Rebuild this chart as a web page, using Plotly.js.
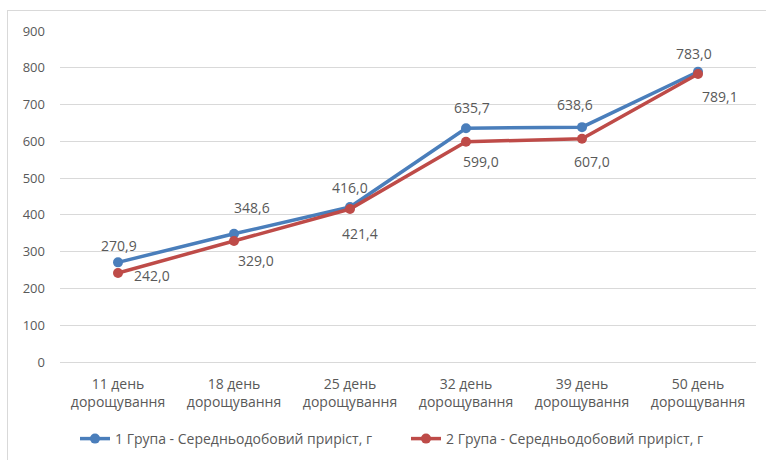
<!DOCTYPE html>
<html>
<head>
<meta charset="utf-8">
<script src="https://cdn.plot.ly/plotly-3.0.1.min.js"></script>
<style>
html,body{margin:0;padding:0;background:#fff;}
#frame{position:absolute;left:7px;top:10px;width:780px;height:470px;border:1px solid #d9d9d9;box-sizing:border-box;}
#chart{position:absolute;left:0;top:0;width:766px;height:460px;}
</style>
</head>
<body>
<div id="frame"></div>
<div id="chart"></div>
<script>
const categories = ['11 день<br>дорощування','18 день<br>дорощування','25 день<br>дорощування','32 день<br>дорощування','39 день<br>дорощування','50 день<br>дорощування'];
const group1Values = [270.9, 348.6, 421.4, 635.7, 638.6, 789.1];
const group2Values = [242.0, 329.0, 416.0, 599.0, 607.0, 783.0];
const upperLabels = ['270,9','348,6','416,0','635,7','638,6','783,0'];
const lowerLabels = ['242,0','329,0','421,4','599,0','607,0','789,1'];
const seriesNames = ['1 Група - Середньодобовий приріст, г','2 Група - Середньодобовий приріст, г'];
const yTicks = [0,100,200,300,400,500,600,700,800,900];

// label offsets (pixels) — styling only
const upperShiftX = [1, 18, 0, 6, -7, -4];
const upperShiftY = [17, 26, 20, 21, 23, 18];
const lowerShiftX = [34, 22, 10, 15, 10, 22];
const lowerShiftY = [-2, -19, -24, -20, -23, -22];

const FONT = 'Open Sans, Noto Sans, sans-serif';
const GREY = '#595959';
const BLUE = '#4A7EBB';
const RED = '#BE4B48';

const traces = [
  {x: categories, y: group1Values, name: seriesNames[0], type:'scatter', mode:'lines+markers',
   line:{color:BLUE, width:3.5}, marker:{color:BLUE, size:10}, cliponaxis:false},
  {x: categories, y: group2Values, name: seriesNames[1], type:'scatter', mode:'lines+markers',
   line:{color:RED, width:3.5}, marker:{color:RED, size:10}, cliponaxis:false}
];

const annotations = [];
categories.forEach((c, i) => {
  annotations.push({x: i, y: group1Values[i], xref:'x', yref:'y', text: upperLabels[i], showarrow:false,
    xshift: upperShiftX[i], yshift: upperShiftY[i], font:{family:FONT, size:14, color:GREY}});
  annotations.push({x: i, y: group2Values[i], xref:'x', yref:'y', text: lowerLabels[i], showarrow:false,
    xshift: lowerShiftX[i], yshift: lowerShiftY[i], font:{family:FONT, size:14, color:GREY}});
});

const layout = {
  width:766, height:460,
  margin:{l:60, r:10, t:31, b:98},
  paper_bgcolor:'rgba(0,0,0,0)', plot_bgcolor:'rgba(0,0,0,0)',
  font:{family:FONT, size:13, color:GREY},
  showlegend:true,
  legend:{orientation:'h', xref:'container', yref:'container', x:75/766, xanchor:'left', y:1-439/460, yanchor:'middle',
          entrywidth:286, entrywidthmode:'pixels', font:{size:14, color:GREY}, traceorder:'normal'},
  annotations: annotations,
  xaxis:{type:'category', range:[-0.5,5.5], showgrid:false, zeroline:false, showline:false, ticks:'',
         tickfont:{size:14, color:GREY}, ticklabelstandoff:12, fixedrange:true},
  yaxis:{range:[0,900], tickvals:yTicks, ticktext:yTicks.map(String), showgrid:true, gridcolor:'#d9d9d9', gridwidth:1,
         zeroline:true, zerolinecolor:'#d9d9d9', zerolinewidth:1, showline:false, ticks:'', ticklabelstandoff:14,
         tickfont:{size:13, color:GREY}, fixedrange:true}
};

Plotly.newPlot('chart', traces, layout, {displayModeBar:false, staticPlot:true});
</script>
</body>
</html>
